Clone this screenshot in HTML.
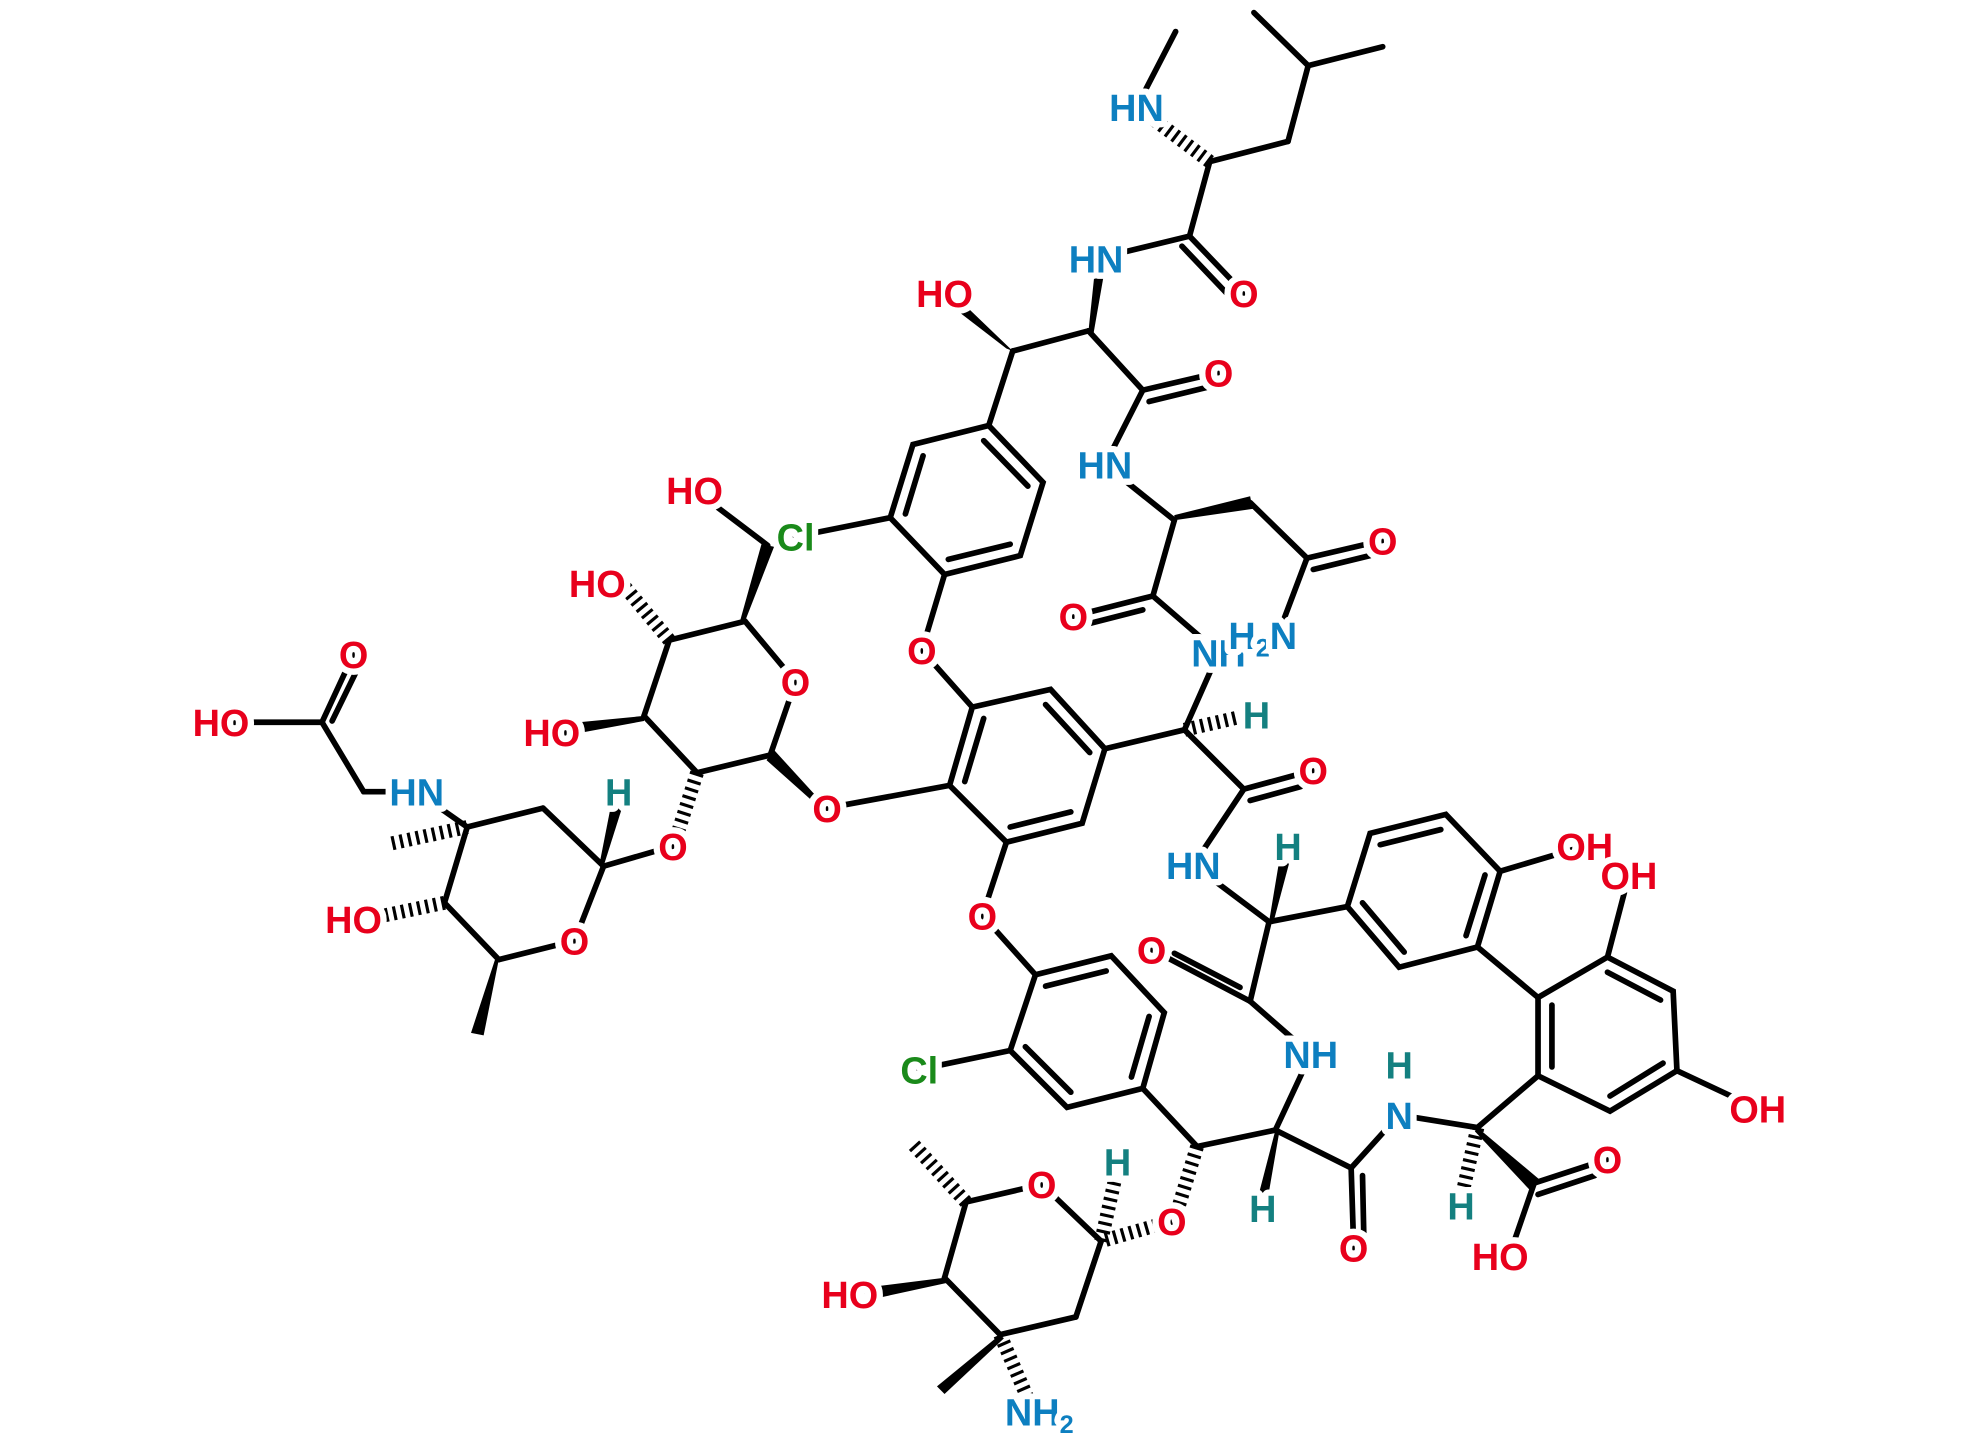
<!DOCTYPE html>
<html><head><meta charset="utf-8"><style>
html,body{margin:0;padding:0;background:#fff;}
svg{display:block;}
.b{stroke:#000;stroke-width:4.5;stroke-linecap:round;fill:none;}
.h{stroke:#000;stroke-width:11;stroke-dasharray:2.5 4;fill:none;}
text{font-family:"Liberation Sans",sans-serif;font-weight:bold;font-size:30px;text-anchor:middle;stroke:#fff;stroke-width:10;paint-order:stroke;stroke-linejoin:round;}
.o{fill:#e8001c}.n{fill:#0d7fc0}.c{fill:#1a8a1a}.t{fill:#148080}
</style></head><body>
<svg width="1980" height="1447" viewBox="0 0 1568 1146" preserveAspectRatio="none">
<g class="b">
<line x1="931" y1="25" x2="900" y2="85"/>
<line x1="958" y1="128" x2="1020" y2="112"/>
<line x1="1020" y1="112" x2="1036" y2="52"/>
<line x1="1036" y1="52" x2="993" y2="10"/>
<line x1="1036" y1="52" x2="1095" y2="37"/>
<line x1="958" y1="128" x2="942" y2="187"/>
<line x1="942" y1="187" x2="985" y2="232"/>
<line x1="936" y1="195" x2="974" y2="235"/>
<line x1="942" y1="187" x2="868" y2="205"/>
<line x1="862" y1="262" x2="802" y2="278"/>
<line x1="802" y1="278" x2="783" y2="337"/>
<line x1="862" y1="262" x2="905" y2="309"/>
<line x1="905" y1="309" x2="965" y2="295"/>
<line x1="910" y1="318" x2="955" y2="307"/>
<line x1="905" y1="309" x2="875" y2="368"/>
<line x1="875" y1="368" x2="930" y2="412"/>
<line x1="990" y1="398" x2="1035" y2="442"/>
<line x1="1035" y1="442" x2="1095" y2="428"/>
<line x1="1040" y1="451" x2="1085" y2="440"/>
<line x1="1035" y1="442" x2="1012" y2="503"/>
<line x1="930" y1="412" x2="913" y2="472"/>
<line x1="913" y1="472" x2="850" y2="488"/>
<line x1="905" y1="483" x2="862" y2="494"/>
<line x1="913" y1="472" x2="965" y2="517"/>
<line x1="965" y1="517" x2="938" y2="578"/>
<line x1="938" y1="578" x2="875" y2="593"/>
<line x1="938" y1="578" x2="985" y2="625"/>
<line x1="985" y1="625" x2="1040" y2="610"/>
<line x1="990" y1="634" x2="1030" y2="623"/>
<line x1="985" y1="625" x2="945" y2="685"/>
<line x1="945" y1="685" x2="1005" y2="730"/>
<polygon points="783,337 723,352 705,410 748,455 808,440 826,382"/>
<line x1="731" y1="361" x2="717" y2="407"/>
<line x1="751" y1="443" x2="800" y2="431"/>
<line x1="814" y1="385" x2="779" y2="349"/>
<line x1="705" y1="410" x2="630" y2="425"/>
<line x1="748" y1="455" x2="730" y2="515"/>
<line x1="730" y1="515" x2="770" y2="560"/>
<polygon points="770,560 832,546 875,593 857,652 797,667 752,622"/>
<line x1="779" y1="569" x2="764" y2="619"/>
<line x1="828" y1="558" x2="863" y2="596"/>
<line x1="848" y1="643" x2="800" y2="655"/>
<line x1="752" y1="622" x2="655" y2="640"/>
<line x1="797" y1="667" x2="778" y2="725"/>
<line x1="778" y1="725" x2="820" y2="772"/>
<polygon points="820,772 880,757 922,802 905,862 845,877 800,832"/>
<line x1="828" y1="781" x2="876" y2="769"/>
<line x1="910" y1="805" x2="896" y2="853"/>
<line x1="848" y1="865" x2="812" y2="829"/>
<line x1="800" y1="832" x2="728" y2="847"/>
<line x1="905" y1="862" x2="948" y2="908"/>
<line x1="872" y1="983" x2="825" y2="938"/>
<line x1="825" y1="938" x2="765" y2="952"/>
<line x1="765" y1="952" x2="748" y2="1012"/>
<line x1="748" y1="1012" x2="792" y2="1057"/>
<line x1="792" y1="1057" x2="852" y2="1043"/>
<line x1="852" y1="1043" x2="872" y2="983"/>
<line x1="948" y1="908" x2="1010" y2="895"/>
<line x1="1010" y1="895" x2="1038" y2="835"/>
<line x1="1010" y1="895" x2="1070" y2="925"/>
<line x1="1070" y1="925" x2="1072" y2="988"/>
<line x1="1079" y1="931" x2="1080" y2="977"/>
<line x1="1070" y1="925" x2="1108" y2="883"/>
<line x1="1108" y1="883" x2="1170" y2="893"/>
<line x1="1170" y1="893" x2="1218" y2="852"/>
<line x1="1215" y1="937" x2="1273" y2="918"/>
<line x1="1218" y1="946" x2="1263" y2="931"/>
<line x1="1215" y1="937" x2="1195" y2="995"/>
<line x1="1038" y1="835" x2="990" y2="793"/>
<line x1="990" y1="793" x2="912" y2="752"/>
<line x1="982" y1="782" x2="930" y2="755"/>
<line x1="990" y1="793" x2="1005" y2="730"/>
<line x1="1005" y1="730" x2="1067" y2="718"/>
<polygon points="1067,718 1085,660 1145,645 1188,690 1170,750 1108,766"/>
<line x1="1093" y1="669" x2="1141" y2="657"/>
<line x1="1176" y1="693" x2="1161" y2="741"/>
<line x1="1112" y1="754" x2="1079" y2="715"/>
<line x1="1188" y1="690" x2="1255" y2="670"/>
<line x1="1170" y1="750" x2="1218" y2="790"/>
<polygon points="1218,790 1273,758 1325,785 1328,848 1275,880 1218,852"/>
<line x1="1229" y1="796" x2="1229" y2="845"/>
<line x1="1273" y1="770" x2="1315" y2="792"/>
<line x1="1317" y1="842" x2="1275" y2="868"/>
<line x1="1273" y1="758" x2="1290" y2="693"/>
<line x1="1328" y1="848" x2="1392" y2="878"/>
<line x1="610" y1="598" x2="630" y2="540"/>
<line x1="630" y1="540" x2="590" y2="492"/>
<line x1="590" y1="492" x2="530" y2="507"/>
<line x1="530" y1="507" x2="510" y2="567"/>
<line x1="510" y1="567" x2="552" y2="612"/>
<line x1="552" y1="612" x2="610" y2="598"/>
<line x1="608" y1="432" x2="550" y2="388"/>
<line x1="533" y1="670" x2="478" y2="686"/>
<line x1="478" y1="686" x2="455" y2="745"/>
<line x1="455" y1="745" x2="395" y2="760"/>
<line x1="395" y1="760" x2="352" y2="715"/>
<line x1="352" y1="715" x2="370" y2="655"/>
<line x1="370" y1="655" x2="430" y2="640"/>
<line x1="430" y1="640" x2="478" y2="686"/>
<line x1="370" y1="655" x2="330" y2="627"/>
<line x1="330" y1="627" x2="288" y2="627"/>
<line x1="288" y1="627" x2="255" y2="572"/>
<line x1="255" y1="572" x2="280" y2="518"/>
<line x1="263" y1="571" x2="285" y2="526"/>
<line x1="255" y1="572" x2="175" y2="572"/>
</g>
<g fill="#000">
<polygon points="862,262 866,264 876,207 868,205"/>
<polygon points="802,278 797,276 745,236 752,230"/>
<polygon points="930,412 930,408 990,393 992,403"/>
<polygon points="1010,895 1013,897 1003,955 995,953"/>
<polygon points="1005,730 1008,732 1024,672 1015,670"/>
<polygon points="1170,893 1168,896 1211,942 1219,934"/>
<polygon points="748,1012 750,1016 686,1030 684,1020"/>
<polygon points="792,1057 795,1060 748,1104 742,1098"/>
<polygon points="655,640 653,643 607,602 613,594"/>
<polygon points="590,492 586,492 603,431 613,433"/>
<polygon points="510,567 510,571 440,584 438,574"/>
<polygon points="478,686 475,683 486,627 496,629"/>
<polygon points="395,760 392,760 373,818 383,820"/>
</g>
<g class="h">
<line x1="958" y1="128" x2="905" y2="88"/>
<line x1="938" y1="578" x2="990" y2="566"/>
<line x1="948" y1="908" x2="932" y2="960"/>
<line x1="928" y1="967" x2="872" y2="983"/>
<line x1="872" y1="983" x2="885" y2="925"/>
<line x1="765" y1="952" x2="722" y2="905"/>
<line x1="792" y1="1057" x2="815" y2="1110"/>
<line x1="1170" y1="893" x2="1157" y2="950"/>
<line x1="530" y1="507" x2="495" y2="465"/>
<line x1="552" y1="612" x2="535" y2="665"/>
<line x1="352" y1="715" x2="290" y2="728"/>
<line x1="370" y1="655" x2="310" y2="668"/>
</g>
<g>
<text x="900" y="96" class="n">HN</text>
<text x="985" y="243" class="o">O</text>
<text x="868" y="216" class="n">HN</text>
<text x="748" y="243" class="o">HO</text>
<text x="965" y="306" class="o">O</text>
<text x="875" y="379" class="n">HN</text>
<text x="1095" y="439" class="o">O</text>
<text x="850" y="499" class="o">O</text>
<text x="965" y="528" class="n">NH</text>
<text x="1000" y="514" class="n">H<tspan font-size="20" dy="6">2</tspan><tspan dy="-6">N</tspan></text>
<text x="995" y="577" class="t">H</text>
<text x="1040" y="621" class="o">O</text>
<text x="945" y="696" class="n">HN</text>
<text x="1020" y="681" class="t">H</text>
<text x="1255" y="681" class="o">OH</text>
<text x="1290" y="704" class="o">OH</text>
<text x="912" y="763" class="o">O</text>
<text x="1038" y="846" class="n">NH</text>
<text x="1108" y="854" class="t">H</text>
<text x="1108" y="894" class="n">N</text>
<text x="1273" y="929" class="o">O</text>
<text x="1157" y="966" class="t">H</text>
<text x="1188" y="1006" class="o">HO</text>
<text x="1392" y="889" class="o">OH</text>
<text x="1000" y="968" class="t">H</text>
<text x="1072" y="999" class="o">O</text>
<text x="928" y="978" class="o">O</text>
<text x="885" y="931" class="t">H</text>
<text x="825" y="949" class="o">O</text>
<text x="673" y="1036" class="o">HO</text>
<text x="823" y="1129" class="n">NH<tspan font-size="20" dy="6">2</tspan></text>
<text x="728" y="858" class="c">Cl</text>
<text x="778" y="736" class="o">O</text>
<text x="730" y="526" class="o">O</text>
<text x="655" y="651" class="o">O</text>
<text x="630" y="436" class="c">Cl</text>
<text x="550" y="399" class="o">HO</text>
<text x="473" y="473" class="o">HO</text>
<text x="630" y="551" class="o">O</text>
<text x="437" y="591" class="o">HO</text>
<text x="533" y="681" class="o">O</text>
<text x="490" y="638" class="t">H</text>
<text x="330" y="638" class="n">HN</text>
<text x="280" y="739" class="o">HO</text>
<text x="455" y="756" class="o">O</text>
<text x="175" y="583" class="o">HO</text>
<text x="280" y="529" class="o">O</text>
</g>
</svg>
</body></html>
